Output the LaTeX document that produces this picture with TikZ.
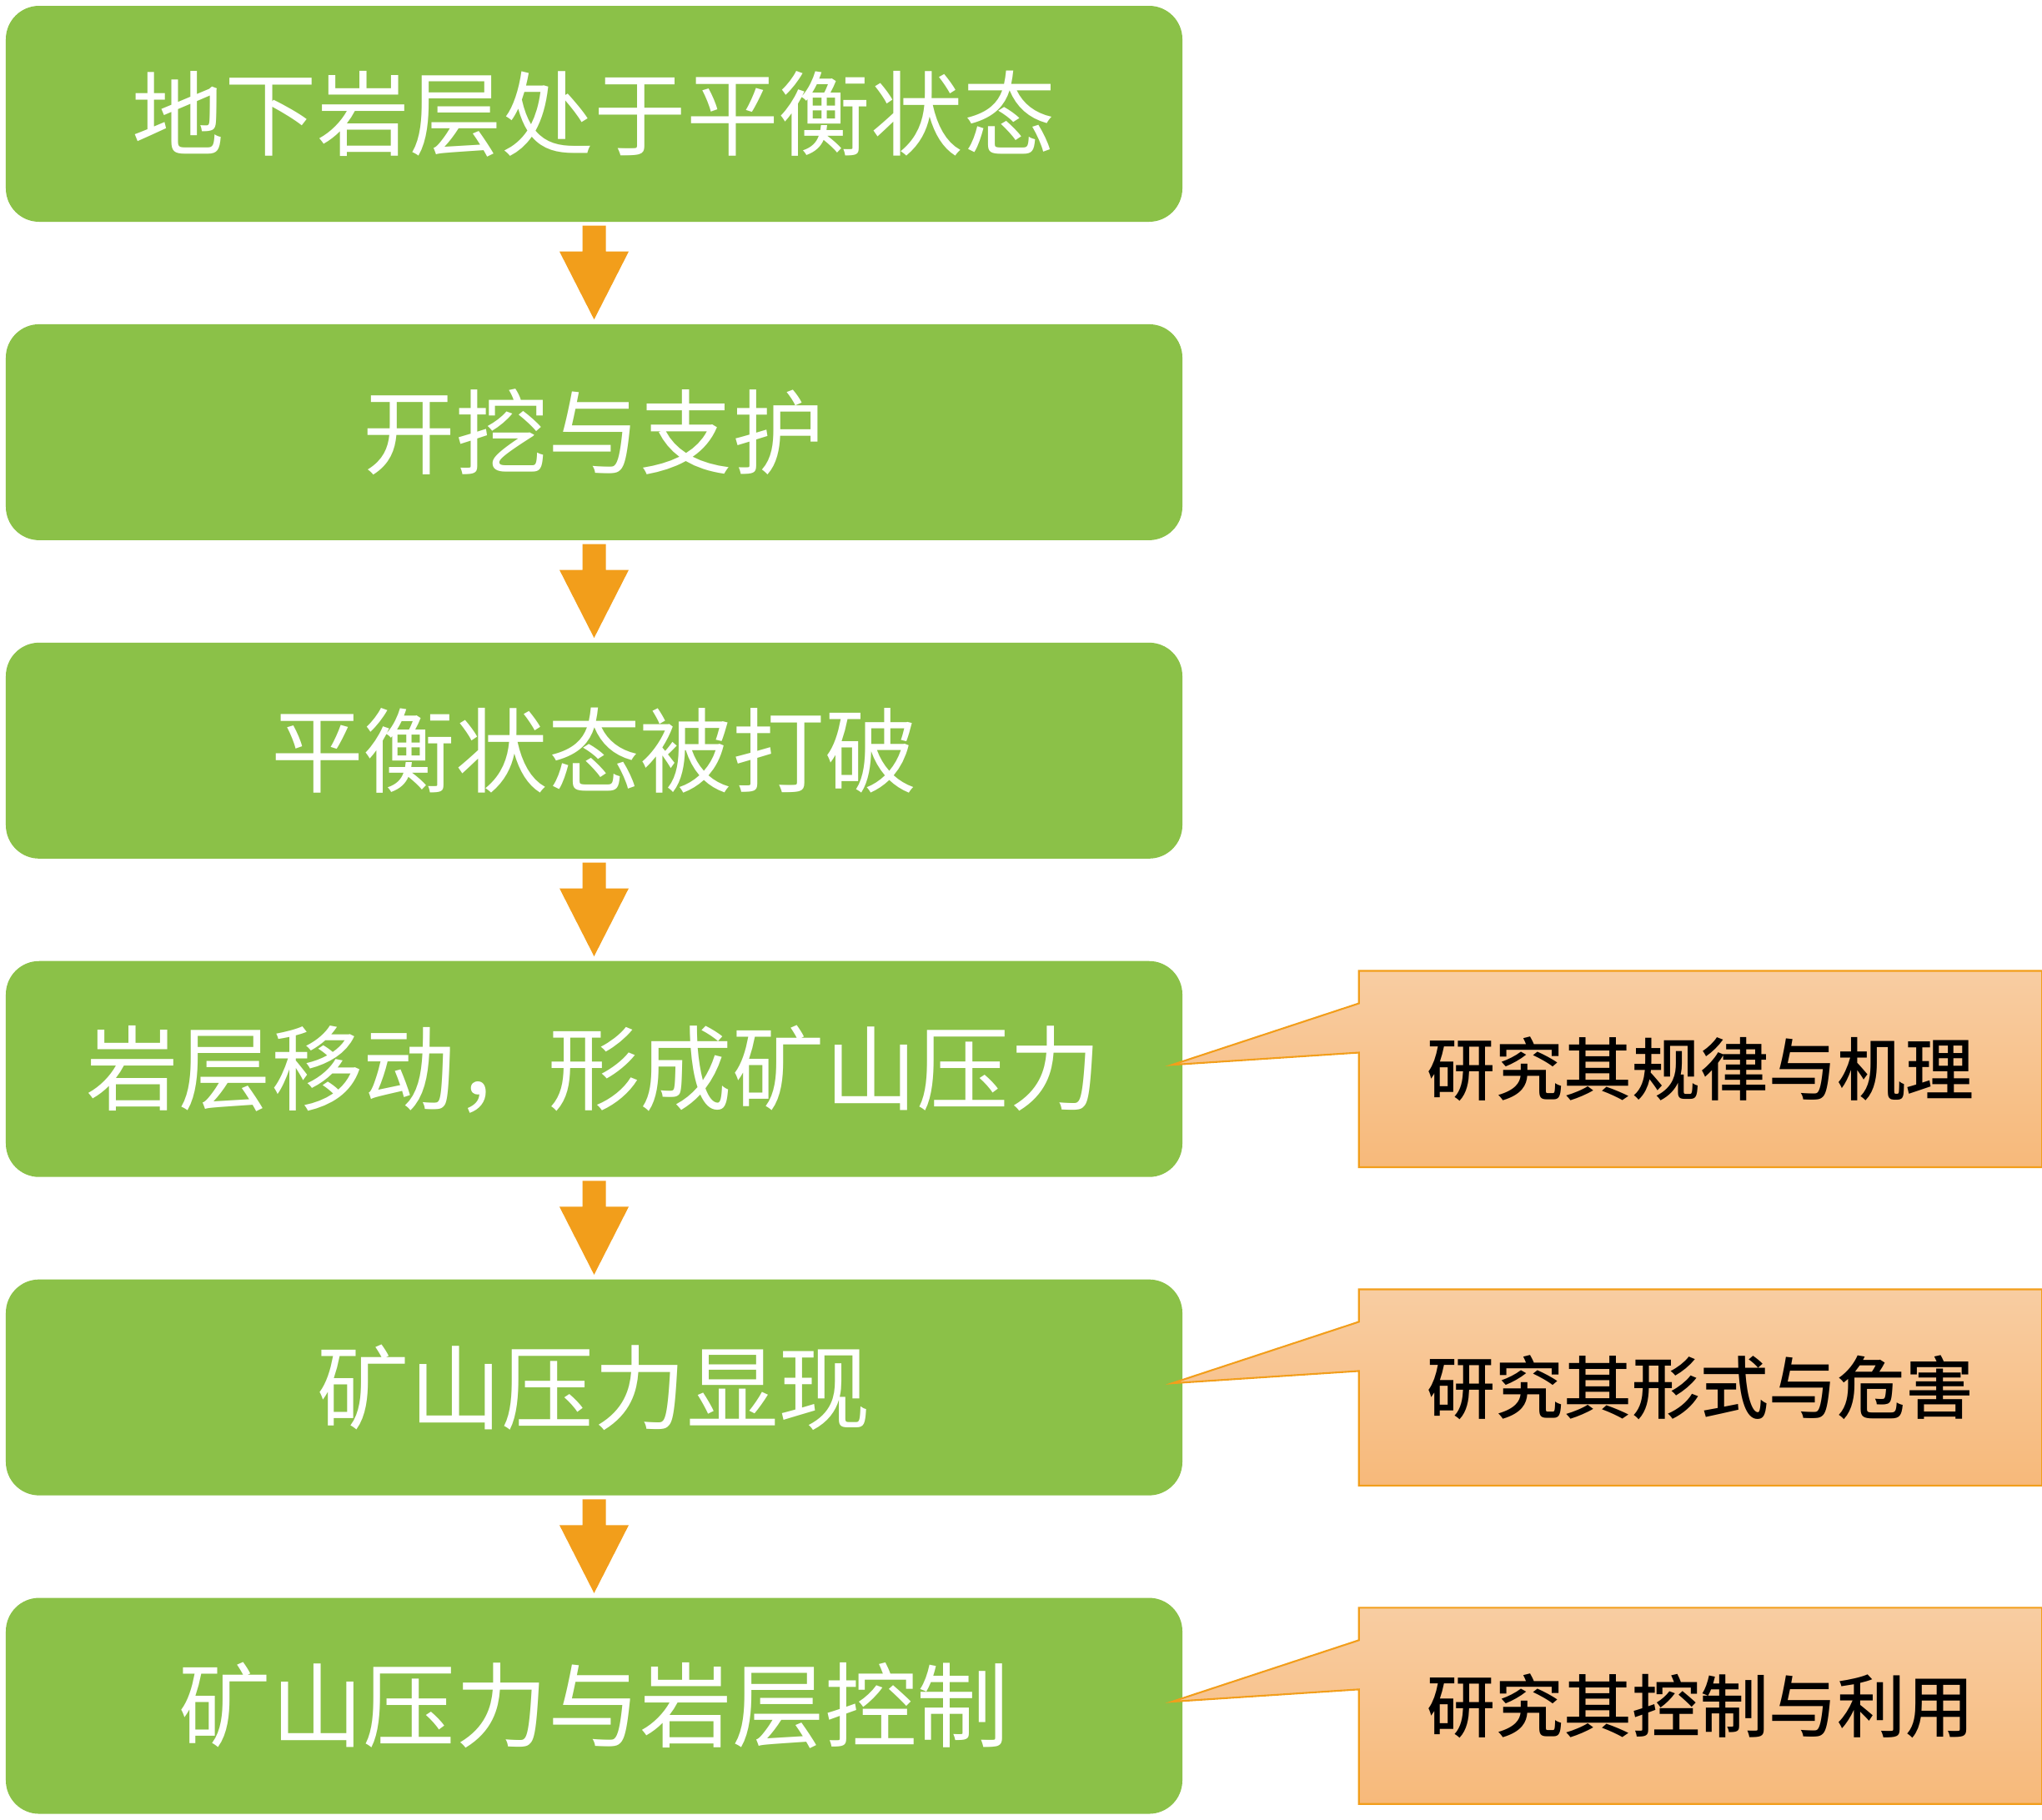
\documentclass[tikz,border=0pt]{standalone}
\usepackage{fontspec}
\usepackage{tikz}
\usetikzlibrary{calc,positioning}
\newfontfamily\cjk{Noto Sans CJK SC}[BoldFont={Noto Sans CJK SC Medium}]
\definecolor{stepgreen}{RGB}{139,193,72}
\definecolor{arroworange}{RGB}{242,158,27}
\definecolor{peachtop}{RGB}{248,205,162}
\definecolor{peachbot}{RGB}{247,185,122}
\def\blockarrow(#1)(#2){\fill[arroworange] ($(#1.south)+(-0.14,-0.04)$) -- ++(0.28,0) -- ++(0,-0.31) -- ++(0.275,0) -- ($(#2.north)+(0,0.05)$) -- ($(#1.south)+(-0.415,-0.35)$) -- ++(0.275,0) -- cycle;}
\def\callout(#1)(#2)(#3){\draw[calloutline] (#1.north west) -- (#1.north east) -- (#1.south east) -- (#1.south west) -- ($(#1.north west)+(0,-0.98)$) -- ($(#2.east)+(-0.13,0.05)$) -- ($(#1.north west)+(0,-0.39)$) -- cycle;
	\node[callouttext] (#3) at (#1) {\csname txt#3\endcsname};}
\tikzset{
	stepbox/.style={fill=stepgreen, rounded corners=0.4cm, minimum width=14.11cm, minimum height=2.59cm, inner sep=0pt, text=white, font=\cjk\fontsize{31.5}{36}\selectfont},
	calloutbox/.style={minimum width=8.18cm, minimum height=2.34cm, inner sep=0pt},
	calloutline/.style={draw=arroworange, line width=0.6pt, top color=peachtop, bottom color=peachbot},
	callouttext/.style={inner sep=0pt, text=black, font=\cjk\bfseries\fontsize{23.3}{28}\selectfont}
}
\def\txtra{研究其规律与机理}
\def\txtrb{研究其形式与危害}
\def\txtrc{研究其控制与利用}
\begin{document}
\begin{tikzpicture}
			%%%%% START %%%%%
			\useasboundingbox (0,0) rectangle (24.49,-21.82);
			
			\node[stepbox] (b1) at (7.125,-1.365) {地下岩层处于平衡状态};
			\node[stepbox, below=1.215cm of b1] (b2) {开挖与支护};
			\node[stepbox, below=1.215cm of b2] (b3) {平衡状态被打破};
			\node[stepbox, below=1.215cm of b3] (b4) {岩层移动，形成矿山压力};
			\node[stepbox, below=1.215cm of b4] (b5) {矿山压力显现};
			\node[stepbox, below=1.215cm of b5] (b6) {矿山压力与岩层控制};
			
			\blockarrow(b1)(b2)
			\blockarrow(b2)(b3)
			\blockarrow(b3)(b4)
			\blockarrow(b4)(b5)
			\blockarrow(b5)(b6)
			
			\node[calloutbox, right=2.11cm of b4] (c4) {};
			\node[calloutbox, right=2.11cm of b5] (c5) {};
			\node[calloutbox, right=2.11cm of b6] (c6) {};
			
			\callout(c4)(b4)(ra)
			\callout(c5)(b5)(rb)
			\callout(c6)(b6)(rc)
			
			%%%%% END %%%%%
\end{tikzpicture}
\end{document}
